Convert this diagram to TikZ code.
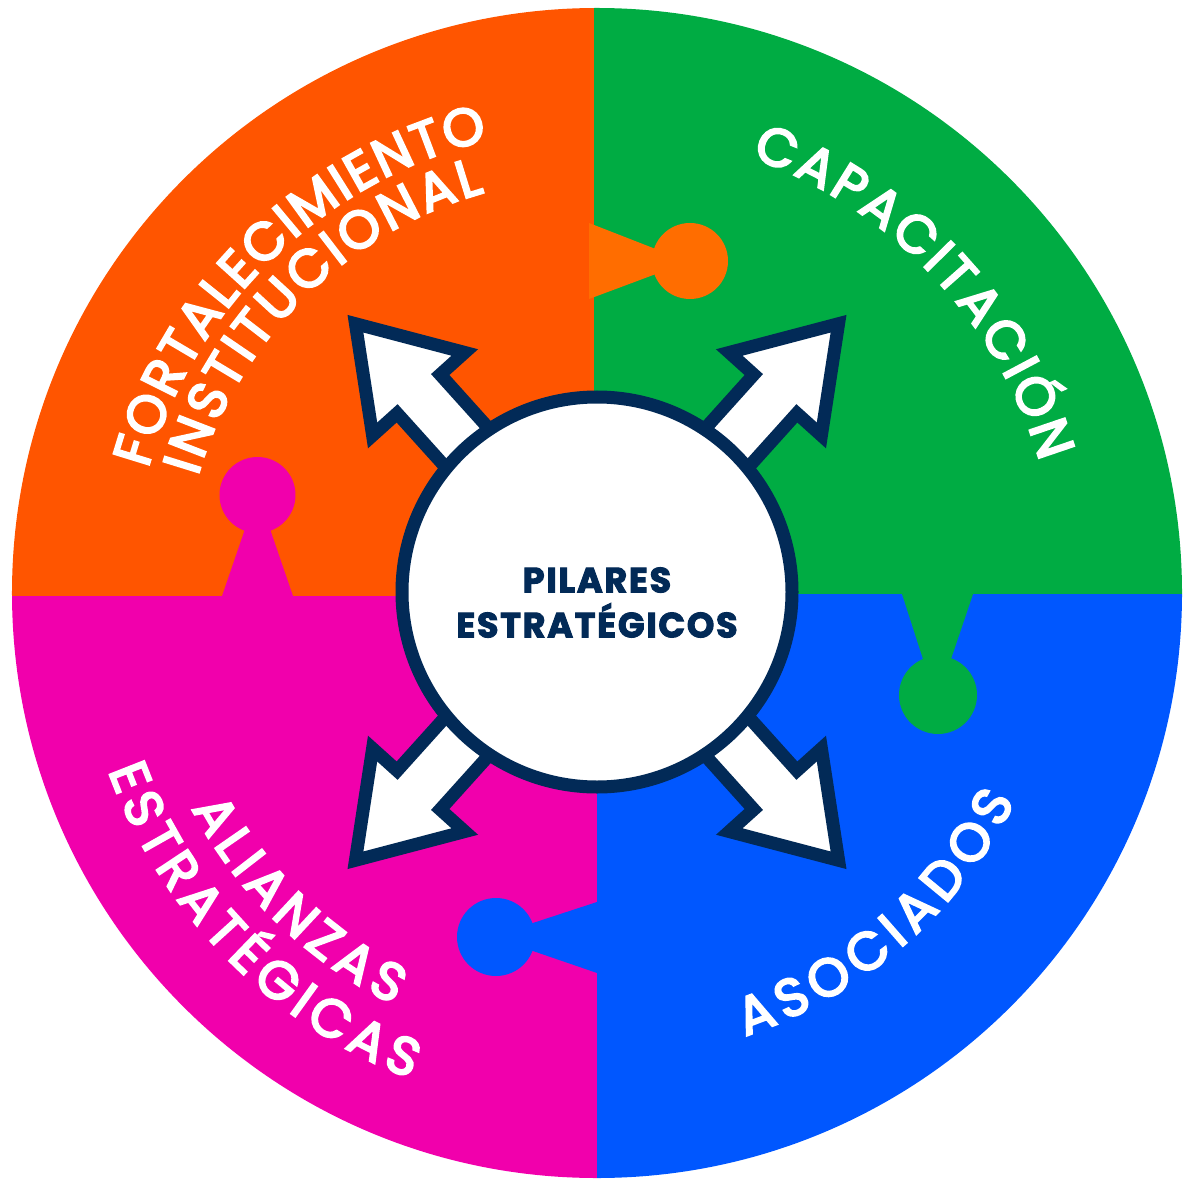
\documentclass[tikz,border=0pt]{standalone}
\usepackage{fontspec}
\setmainfont{Poppins}
\newfontfamily\arcfont{Poppins}
\newfontfamily\hubfont{Poppins}[LetterSpace=5]
\newcommand\thickglyphs[1]{\special{pdf:literal direct 2 Tr #1 w}}
\usetikzlibrary{decorations.text}
\definecolor{qorange}{HTML}{FF5500}
\definecolor{torange}{HTML}{FF6D00}
\definecolor{qgreen}{HTML}{00AC43}
\definecolor{qblue}{HTML}{0057FF}
\definecolor{qmagenta}{HTML}{F100AC}
\definecolor{navy}{HTML}{022A57}
\begin{document}
\begin{tikzpicture}[x=0.5pt,y=0.5pt,
  arrowshape/.style={fill=white, draw=navy, line width=6.5pt, line join=miter, miter limit=10},
  curvetext/.style={decorate, decoration={text along path, text color=white, text align=fit to path}}]
\useasboundingbox (-597,-585) rectangle (589,593);
% quadrants
\begin{scope}
\clip (0,0) circle[radius=585];
\fill[qorange] (-600,-3) rectangle (-3,600);
\fill[qgreen] (-3,-1) rectangle (600,600);
\fill[qblue] (0,-1) rectangle (600,-600);
\fill[qmagenta] (-600,-3) rectangle (0,-600);
\end{scope}
% puzzle tabs
\fill[torange] (-8,370) -- (75,337.6) -- (75,325) -- (-8,294) -- cycle;
\fill[torange] (93,332) circle[radius=38];
\fill[qmagenta] (-376,-6) -- (-346.5,80) -- (-332.5,80) -- (-303,-6) -- cycle;
\fill[qmagenta] (-339.5,98) circle[radius=38];
\fill[qgreen] (303.7,3) -- (332.1,-85) -- (347.6,-85) -- (377.4,3) -- cycle;
\fill[qgreen] (341,-102) circle[radius=39];
\fill[qblue] (3,-308) -- (-83,-336.2) -- (-83,-351.5) -- (3,-381) -- cycle;
\fill[qblue] (-101,-344) circle[radius=39];
% arrows
\foreach \a in {132,48,-48,-132}{
  \begin{scope}[shift={(0,1)}, rotate=\a]
    \draw[arrowshape] (150,-29) -- (266.5,-29) -- (266.5,-62) -- (361,0) -- (266.5,62) -- (266.5,29) -- (150,29) -- cycle;
  \end{scope}
}
% hub
\node[circle, minimum size=195pt, inner sep=0pt, fill=white, draw=navy, line width=6.5pt] (hub) at (0,1) {};
\node[text=navy, align=center, inner sep=0pt, font=\hubfont\bfseries\fontsize{17.5}{22.5}\selectfont] (hubtext) at (0,-9.5) {\thickglyphs{0.5}PILARES\\\thickglyphs{0.5}ESTRATÉGICOS};
% curved labels
\path[curvetext, decoration={text={|\arcfont\fontsize{26.5}{28}\selectfont\thickglyphs{1.1}|FORTALECIMIENTO}}] (164.5:466) arc[start angle=164.5, end angle=103.5, radius=466];
\path[curvetext, decoration={text={|\arcfont\fontsize{26.5}{28}\selectfont\thickglyphs{1.1}|INSTITUCIONAL}}] (163.7:416) arc[start angle=163.7, end angle=105.7, radius=416];
\path[curvetext, decoration={text={|\arcfont\fontsize{26.5}{28}\selectfont\thickglyphs{1.1}|CAPACITACIÓN}}] (70.5:462) arc[start angle=70.5, end angle=16.5, radius=462];
\path[curvetext, decoration={text={|\arcfont\fontsize{26.5}{28}\selectfont\thickglyphs{1.1}|ASOCIADOS}}] (-71.5:467) arc[start angle=-71.5, end angle=-26.5, radius=467];
\path[curvetext, decoration={text={|\arcfont\fontsize{26.5}{28}\selectfont\thickglyphs{1.1}|ALIANZAS}}] (-152:459) arc[start angle=-152, end angle=-116.3, radius=459];
\path[curvetext, decoration={text={|\arcfont\fontsize{26.5}{28}\selectfont\thickglyphs{1.1}|ESTRATÉGICAS}}] (-160:520) arc[start angle=-160, end angle=-111, radius=520];
\end{tikzpicture}
\end{document}
